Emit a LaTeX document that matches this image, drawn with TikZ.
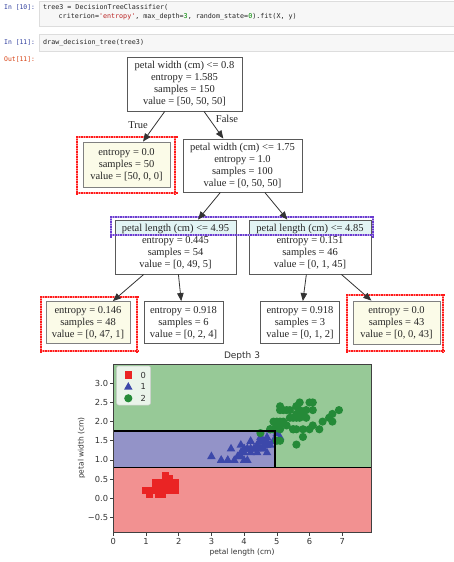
\documentclass[tikz,border=0pt]{standalone}
\usepackage{fontspec}
\usetikzlibrary{arrows.meta,fit,calc}
\newfontfamily\treefont{Liberation Serif}
\newfontfamily\plotfont{DejaVu Sans}
\newfontfamily\codefont[Ligatures=TeXOff]{DejaVu Sans Mono}
\definecolor{cellbg}{HTML}{F7F7F7}
\definecolor{cellbd}{HTML}{DDDDDD}
\definecolor{inprompt}{HTML}{303F9F}
\definecolor{outprompt}{HTML}{D84315}
\definecolor{strcol}{HTML}{BA2121}
\definecolor{numcol}{HTML}{008800}
\definecolor{leafbg}{HTML}{FBFBE8}
\definecolor{bandcol}{HTML}{E2F4F4}
\definecolor{dotred}{HTML}{FF1A1A}
\definecolor{dotblue}{HTML}{6A3CD0}
\definecolor{regred}{HTML}{F29191}
\definecolor{regblue}{HTML}{9393C8}
\definecolor{reggreen}{HTML}{97C997}
\definecolor{sqcol}{HTML}{EA2424}
\definecolor{tricol}{HTML}{3C48AA}
\definecolor{circcol}{HTML}{258A38}
% dotted frame: pale solid underlay plus small squares; colour, x, y, width, height
\newcommand\mydotbox[5]{%
  \draw[#1!50, line width=2pt] (#2+1,#3+1) rectangle (#2+#4-1,#3+#5-1);
  \foreach \t in {0,2.5,...,#4} {
    \fill[#1] ({#2+\t},#3) rectangle ++(1.5,1.8);
    \fill[#1] ({#2+\t},{#3+#5}) rectangle ++(1.5,-1.8);
  }
  \foreach \t in {0,2.5,...,#5} {
    \fill[#1] (#2,{#3+\t}) rectangle ++(1.8,1.5);
    \fill[#1] ({#2+#4},{#3+\t}) rectangle ++(-1.8,1.5);
  }
}
\begin{document}
\begin{tikzpicture}[x=1pt,y=-1pt,
  cell/.style={draw=cellbd, fill=cellbg, line width=0.6pt},
  prompt/.style={anchor=west, inner sep=0pt, font=\codefont\fontsize{6.4}{8}\selectfont},
  code/.style={anchor=west, inner sep=0pt, font=\codefont\fontsize{6.7}{8}\selectfont, text=black!85},
  tnode/.style={draw=black!65, line width=0.9pt, fill=white, align=center, inner sep=0pt,
     text=black!85, font=\treefont\fontsize{10.5}{12}\selectfont},
  leafnode/.style={tnode, fill=leafbg, draw=black!50},
  band/.style={path picture={\fill[bandcol] (path picture bounding box.north west) rectangle ([yshift=-16pt]path picture bounding box.north east);}},
  edge/.style={draw=black!80, line width=0.8pt, -{Triangle[length=8pt,width=6.5pt]}},
  elabel/.style={inner sep=0pt, text=black!85, font=\treefont\fontsize{10.5}{12}\selectfont},
  ticklab/.style={inner sep=0pt, text=black!80, font=\plotfont\fontsize{8.3}{10}\selectfont},
  axlab/.style={inner sep=0pt, text=black!80, font=\plotfont\fontsize{7.5}{9}\selectfont}
]
\useasboundingbox (0,0) rectangle (454,562);
\fill[white] (0,0) rectangle (454,562);

% ---- notebook cells ----
\draw[cell] (39,1) rectangle (455,26);
\draw[cell] (39,34) rectangle (455,51);
\node[prompt, text=inprompt] (p10) at (4,7) {In [10]:};
\node[code] (c1) at (43,7) {tree3 = DecisionTreeClassifier(};
\node[code] (c2) at (58.5,17) {criterion=\textcolor{strcol}{'entropy'}, max\_depth=\textcolor{numcol}{3}, random\_state=\textcolor{numcol}{0}).fit(X, y)};
\node[prompt, text=inprompt] (p11) at (4,42.5) {In [11]:};
\node[code] (c3) at (43,42.5) {draw\_decision\_tree(tree3)};
\node[prompt, text=outprompt] (o11) at (4,59) {Out[11]:};

% ---- tree ----
\node[tnode, minimum width=115pt, minimum height=54pt] (root) at (184.5,84)
  {petal width (cm) <= 0.8\\entropy = 1.585\\samples = 150\\value = [50, 50, 50]};
\node[leafnode, minimum width=87pt, minimum height=45pt] (leafA) at (126.5,164.5)
  {entropy = 0.0\\samples = 50\\value = [50, 0, 0]};
\node[tnode, minimum width=119pt, minimum height=53pt] (nodeR) at (242.5,165.5)
  {petal width (cm) <= 1.75\\entropy = 1.0\\samples = 100\\value = [0, 50, 50]};
\node[tnode, band, minimum width=121pt, minimum height=54pt] (L2a) at (175.5,247)
  {petal length (cm) <= 4.95\\entropy = 0.445\\samples = 54\\value = [0, 49, 5]};
\node[tnode, band, minimum width=122pt, minimum height=54pt] (L2b) at (310,247)
  {petal length (cm) <= 4.85\\entropy = 0.151\\samples = 46\\value = [0, 1, 45]};
\node[leafnode, minimum width=84pt, minimum height=42pt] (leaf1) at (88,322.5)
  {entropy = 0.146\\samples = 48\\value = [0, 47, 1]};
\node[tnode, minimum width=79pt, minimum height=42pt] (leaf2) at (183.5,322.5)
  {entropy = 0.918\\samples = 6\\value = [0, 2, 4]};
\node[tnode, minimum width=79pt, minimum height=42pt] (leaf3) at (300,322.5)
  {entropy = 0.918\\samples = 3\\value = [0, 1, 2]};
\node[leafnode, minimum width=87pt, minimum height=43pt] (leaf4) at (396.5,322.5)
  {entropy = 0.0\\samples = 43\\value = [0, 0, 43]};

% dotted highlight frames
\mydotbox{dotred}{76}{136}{100}{58}
\mydotbox{dotred}{40}{296}{98}{56}
\mydotbox{dotred}{346}{294}{98}{58}
\mydotbox{dotblue}{110}{216}{264}{20}

\draw[edge] (root) -- (leafA);
\draw[edge] (root) -- (nodeR);
\draw[edge] (nodeR) -- (L2a);
\draw[edge] (nodeR) -- (L2b);
\draw[edge] (L2a) -- (leaf1);
\draw[edge] (L2a) -- (leaf2);
\draw[edge] (L2b) -- (leaf3);
\draw[edge] (L2b) -- (leaf4);
\node[elabel] (tlab) at (138,125) {True};
\node[elabel] (flab) at (227,119) {False};

% ---- plot ----
\node[axlab, font=\plotfont\fontsize{9}{11}\selectfont] (ptitle) at (242,356.5) {Depth 3};
\begin{scope}[shift={(113.3pt,-498.2pt)}, x=32.7pt, y=38.3pt]
  \fill[regred] (0,-0.9) rectangle (7.9,0.8);
  \fill[reggreen] (0,0.8) rectangle (7.9,3.5);
  \fill[regblue] (0,0.8) rectangle (4.95,1.75);
  \foreach \a/\b in {1.4/0.2,1.4/0.2,1.3/0.2,1.5/0.2,1.4/0.2,1.7/0.4,1.4/0.3,1.5/0.2,1.4/0.2,1.5/0.1,1.5/0.2,1.6/0.2,1.4/0.1,1.1/0.1,1.2/0.2,1.5/0.4,1.3/0.4,1.4/0.3,1.7/0.3,1.5/0.3,1.7/0.2,1.5/0.4,1.0/0.2,1.7/0.5,1.9/0.2,1.6/0.2,1.6/0.4,1.5/0.2,1.4/0.2,1.6/0.2,1.6/0.2,1.5/0.4,1.5/0.1,1.4/0.2,1.5/0.2,1.2/0.2,1.3/0.2,1.4/0.1,1.3/0.2,1.5/0.2,1.3/0.3,1.3/0.3,1.3/0.2,1.6/0.6,1.9/0.4,1.4/0.3,1.6/0.2,1.4/0.2,1.5/0.2,1.4/0.2}
    \fill[sqcol] (\a,\b) ++(-3.7pt,-3.7pt) rectangle ++(7.4pt,7.4pt);
  \foreach \a/\b in {4.7/1.4,4.5/1.5,4.9/1.5,4.0/1.3,4.6/1.5,4.5/1.3,4.7/1.6,3.3/1.0,4.6/1.3,3.9/1.4,3.5/1.0,4.2/1.5,4.0/1.0,4.7/1.4,3.6/1.3,4.4/1.4,4.5/1.5,4.1/1.0,4.5/1.5,3.9/1.1,4.8/1.8,4.0/1.3,4.9/1.5,4.7/1.2,4.3/1.3,4.4/1.4,4.8/1.4,5.0/1.7,4.5/1.5,3.5/1.0,3.8/1.1,3.7/1.0,3.9/1.2,5.1/1.6,4.5/1.5,4.5/1.6,4.7/1.5,4.4/1.3,4.1/1.3,4.0/1.3,4.4/1.2,4.6/1.4,4.0/1.2,3.3/1.0,4.2/1.3,4.2/1.2,4.2/1.3,4.3/1.3,3.0/1.1,4.1/1.3}
    \fill[tricol] (\a,\b) ++(0pt,4.6pt) -- ++(-4.3pt,-7.6pt) -- ++(8.6pt,0pt) -- cycle;
  \foreach \a/\b in {6.0/2.5,5.1/1.9,5.9/2.1,5.6/1.8,5.8/2.2,6.6/2.1,4.5/1.7,6.3/1.8,5.8/1.8,6.1/2.5,5.1/2.0,5.3/1.9,5.5/2.1,5.0/2.0,5.1/2.4,5.3/2.3,5.5/1.8,6.7/2.2,6.9/2.3,5.0/1.5,5.7/2.3,4.9/2.0,6.7/2.0,4.9/1.8,5.7/2.1,6.0/1.8,4.8/1.8,4.9/1.8,5.6/2.1,5.8/1.6,6.1/1.9,6.4/2.0,5.6/2.2,5.1/1.5,5.6/1.4,6.1/2.3,5.6/2.4,5.5/1.8,4.8/1.8,5.4/2.1,5.6/2.4,5.1/2.3,5.1/1.9,5.9/2.3,5.7/2.5,5.2/2.3,5.0/1.9,5.2/2.0,5.4/2.3,5.1/1.8}
    \fill[circcol] (\a,\b) circle[radius=4.1pt];
  % decision boundaries
  \draw[black, line width=1.6pt] (0,0.8) -- (7.9,0.8);
  \draw[black, line width=1.6pt] (0,1.75) -- (4.95,1.75) -- (4.95,0.8);
  % frame and ticks
  \draw[black!75, line width=0.6pt] (0,-0.9) rectangle (7.9,3.5);
  \foreach \i in {0,...,7} {
    \draw[black!75, line width=0.6pt] (\i,-0.9) -- ++(0pt,-3.5pt);
    \node[ticklab, anchor=north] at ([yshift=-5.5pt]\i,-0.9) {\i};
  }
  \foreach \v/\t in {3.0/3.0,2.5/2.5,2.0/2.0,1.5/1.5,1.0/1.0,0.5/0.5,0.0/0.0,-0.5/−0.5} {
    \draw[black!75, line width=0.6pt] (0,\v) -- ++(-3.5pt,0pt);
    \node[ticklab, anchor=east] at ([xshift=-5pt]0,\v) {\t};
  }
\end{scope}
\node[axlab] (xlab) at (242,552.5) {petal length (cm)};
\node[axlab, rotate=90] (ylab) at (81.5,448) {petal width (cm)};
% legend
\draw[draw=black!20, fill=white, fill opacity=0.8, rounded corners=2pt, line width=0.5pt] (116.7,366) rectangle (150.5,405);
\fill[sqcol] (128.3,375) ++(-3.7pt,-3.7pt) rectangle ++(7.4pt,7.4pt);
\fill[tricol] (128.3,386.7) ++(0pt,4.6pt) -- ++(-4.3pt,-7.6pt) -- ++(8.6pt,0pt) -- cycle;
\fill[circcol] (128.3,398.3) circle[radius=4.1pt];
\node[ticklab] (lg0) at (143.3,375) {0};
\node[ticklab] (lg1) at (143.3,386.7) {1};
\node[ticklab] (lg2) at (143.3,398.3) {2};
\end{tikzpicture}
\end{document}
